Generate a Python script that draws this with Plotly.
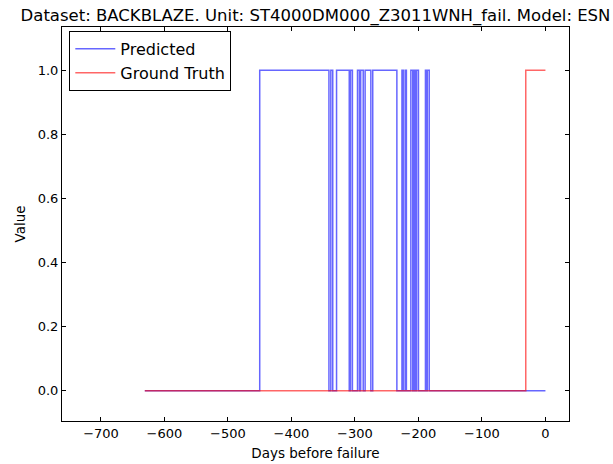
import plotly.graph_objects as go

# Predicted: change points (day) and value held from that day on (step)
pred_days = [-631, -450, -341, -338, -335, -329, -309, -307, -304, -296, -293, -291, -287,
             -284, -275, -272, -234, -226, -224, -221, -219, -212, -209, -207, -205,
             -203, -200, -189, -188, -186, -183, 0]
pred_vals = [0, 1, 0, 1, 0, 1, 0, 1, 0, 1, 0, 1, 0,
             1, 0, 1, 0, 1, 0, 1, 0, 1, 0, 1, 0,
             1, 0, 1, 0, 1, 0, 0]

# Ground truth: change points and values
gt_days = [-631, -31, 0]
gt_vals = [0, 1, 1]

x_ticks = [-700, -600, -500, -400, -300, -200, -100, 0]
y_ticks = [0.0, 0.2, 0.4, 0.6, 0.8, 1.0]

FONT = "DejaVu Sans"

fig = go.Figure()
fig.add_trace(go.Scatter(x=pred_days, y=pred_vals, mode="lines", name="Predicted",
                         line=dict(color="rgba(0,0,255,0.6)", width=1.5, shape="hv")))
fig.add_trace(go.Scatter(x=gt_days, y=gt_vals, mode="lines", name="Ground Truth",
                         line=dict(color="rgba(255,0,0,0.6)", width=1.5, shape="hv")))

axis_common = dict(showline=True, linecolor="black", linewidth=1, mirror="allticks",
                   ticks="inside", ticklen=4, tickcolor="black", showgrid=False,
                   zeroline=False, automargin=False,
                   tickfont=dict(family=FONT, size=13, color="black"))

fig.update_layout(
    width=613, height=464,
    margin=dict(l=62, r=44, t=27, b=43),
    paper_bgcolor="white", plot_bgcolor="white",
    font=dict(family=FONT, color="black"),
    title=dict(text="Dataset: BACKBLAZE. Unit: ST4000DM000_Z3011WNH_fail. Model: ESN",
               x=0.5, xref="paper", xanchor="center", y=1 - 15 / 464, yref="container",
               yanchor="middle", font=dict(family=FONT, size=16.5, color="black")),
    xaxis=dict(range=[-761.4, 37.1], tickvals=x_ticks,
               title=dict(text="Days before failure", font=dict(family=FONT, size=13.5), standoff=8),
               **axis_common),
    yaxis=dict(range=[-0.094, 1.135], tickvals=y_ticks, tickformat=".1f",
               title=dict(text="Value", font=dict(family=FONT, size=13.5), standoff=8),
               **axis_common),
    legend=dict(x=0.0144, y=0.99, xanchor="left", yanchor="top",
                bordercolor="black", borderwidth=1, bgcolor="white", itemwidth=40,
                font=dict(family=FONT, size=16, color="black"), tracegroupgap=0),
    showlegend=True,
)

fig.write_html("out.html")
